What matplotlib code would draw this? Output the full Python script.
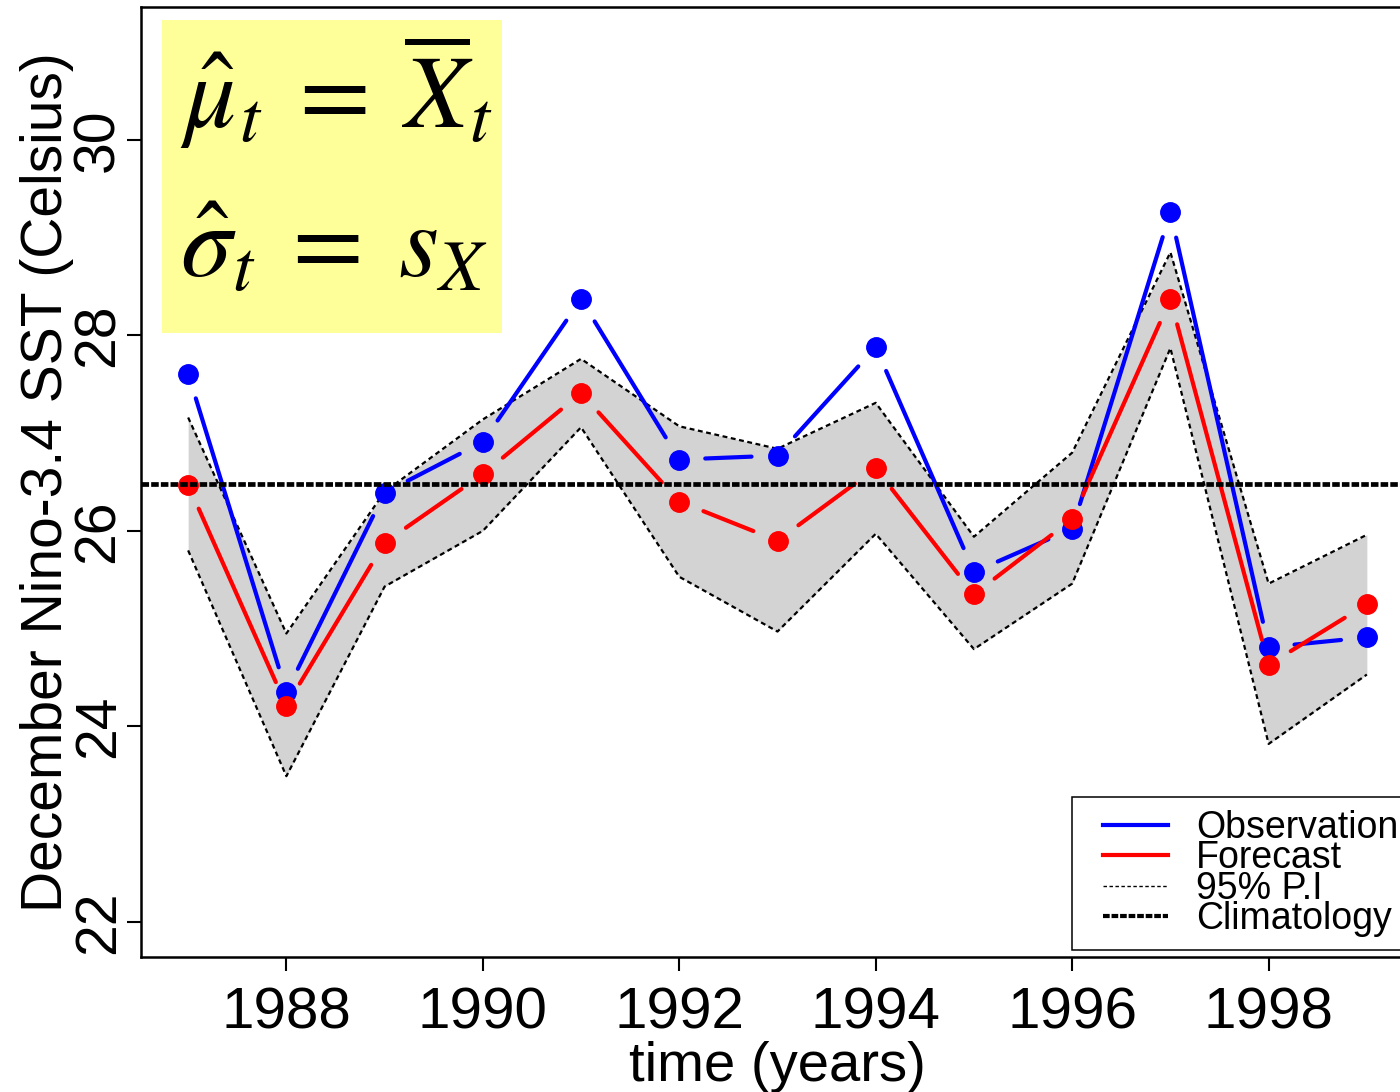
import numpy as np
import matplotlib
matplotlib.use("Agg")
import matplotlib.pyplot as plt
from matplotlib.collections import LineCollection
from matplotlib.lines import Line2D
from matplotlib.patches import Rectangle
from matplotlib.legend_handler import HandlerLine2D

# December Nino-3.4 SST, observations vs. forecast with 95% prediction interval
years = [1987, 1988, 1989, 1990, 1991, 1992, 1993, 1994, 1995, 1996, 1997, 1998, 1999]
observed = [27.61, 24.35, 26.39, 26.91, 28.37, 26.73, 26.77, 27.88, 25.58, 26.02, 29.26, 24.81, 24.91]
forecast = [26.47, 24.21, 25.88, 26.58, 27.41, 26.30, 25.90, 26.64, 25.35, 26.12, 28.37, 24.63, 25.25]
pi_upper = [27.16, 24.95, 26.40, 27.14, 27.76, 27.07, 26.84, 27.31, 25.94, 26.80, 28.85, 25.46, 25.96]
pi_lower = [25.80, 23.49, 25.43, 26.00, 27.06, 25.53, 24.97, 25.97, 24.79, 25.46, 27.87, 23.82, 24.53]
climatology = 26.48
xticks = [1988, 1990, 1992, 1994, 1996, 1998]
yticks = [22, 24, 26, 28, 30]

SANS = "Liberation Sans"
plt.rcParams["mathtext.fontset"] = "stix"

W, H = 1400, 1092
fig = plt.figure(figsize=(W / 100, H / 100), dpi=100)
# plot region (right edge runs past the figure border)
left, right, top, bottom = 141, 1414, 7, 957
ax = fig.add_axes([left / W, 1 - bottom / H, (right - left) / W, (bottom - top) / H])
ax.set_xlim(1986.52, 1999.48)
ax.set_ylim(21.64, 31.36)

x = np.array(years, dtype=float)
obs = np.array(observed)
fc = np.array(forecast)
up = np.array(pi_upper)
lo = np.array(pi_lower)

# prediction band
ax.fill_between(x, lo, up, color="#D3D3D3", lw=0, zorder=1)
pi_style = dict(color="black", lw=1.6, ls=(0, (2.2, 1.6)), zorder=2)
ax.plot(x, up, **pi_style)
ax.plot(x, lo, **pi_style)


def gapped(xv, yv, gap_px):
    """Segments between consecutive points, trimmed back from each point."""
    pts = ax.transData.transform(np.column_stack([xv, yv]))
    inv = ax.transData.inverted()
    segs = []
    for p0, p1 in zip(pts[:-1], pts[1:]):
        d = p1 - p0
        L = np.hypot(*d)
        if L > 2 * gap_px:
            u = d / L
            segs.append(inv.transform(np.array([p0 + u * gap_px, p1 - u * gap_px])))
    return segs


for vals, col, z in ((obs, "#0000FF", 3), (fc, "#FF0000", 4)):
    ax.add_collection(LineCollection(gapped(x, vals, 26), colors=col,
                                     linewidths=3.0, capstyle="round", zorder=z))
    ax.plot(x, vals, ls="none", marker="o", ms=14, color=col, mec=col, zorder=z)

ax.axhline(climatology, color="black", lw=3.4, ls=(0, (1.6, 0.45)), zorder=5)

# axes styling
for s in ("left", "bottom", "top", "right"):
    ax.spines[s].set_linewidth(1.8)
ax.set_xticks(xticks)
ax.set_yticks(yticks)
ax.tick_params(axis="both", direction="out", length=10, width=1.5)
ax.tick_params(axis="x", pad=11)
ax.tick_params(axis="y", pad=1)
for lab in ax.get_xticklabels():
    lab.set_fontfamily(SANS)
    lab.set_fontsize(42)
for lab in ax.get_yticklabels():
    lab.set_fontfamily(SANS)
    lab.set_fontsize(41)
    lab.set_rotation(90)
    lab.set_va("center")
    lab.set_ha("right")

ax.set_xlabel("time (years)", fontsize=40.5, family=SANS)
ax.xaxis.set_label_coords(0.5, -0.088)
ax.set_ylabel("December Nino-3.4 SST (Celsius)", fontsize=41, family=SANS)
ax.yaxis.set_label_coords(-0.053, 0.5)


class InsetLineHandler(HandlerLine2D):
    """Legend line that starts a little to the right of its handle box."""

    def __init__(self, inset, **kw):
        super().__init__(**kw)
        self.inset = inset

    def create_artists(self, legend, orig_handle, xdescent, ydescent, width,
                       height, fontsize, trans):
        artists = super().create_artists(legend, orig_handle, xdescent, ydescent,
                                         width, height, fontsize, trans)
        for a in artists:
            xd = np.array(a.get_xdata(), dtype=float)
            if xd.size >= 2 and a.get_linestyle() not in ("None", "none", ""):
                xd[0] += self.inset
                a.set_xdata(xd)
        return artists


handles = [
    Line2D([], [], color="#0000FF", lw=3.0),
    Line2D([], [], color="#FF0000", lw=3.0),
    Line2D([], [], color="black", lw=1.0, ls=(0, (2.5, 1.8))),
    Line2D([], [], color="black", lw=3.0, ls=(0, (1.6, 0.45))),
]
labels = ["Observation", "Forecast", "95% P.I", "Climatology"]
handler = InsetLineHandler(13)
leg = ax.legend(handles, labels, loc="upper left",
                bbox_to_anchor=(1072 / W, 1 - 797 / H), bbox_transform=fig.transFigure,
                prop={"family": SANS, "size": 27}, frameon=True, fancybox=False,
                edgecolor="black", framealpha=1, borderpad=0.35, labelspacing=-0.15,
                handlelength=2.2, handletextpad=0.75, borderaxespad=0,
                handler_map={h: handler for h in handles})
leg.get_frame().set_linewidth(1.1)
leg.set_zorder(6)

# estimator box
fig.patches.append(Rectangle((162 / W, 1 - 333 / H), 340 / W, 313 / H,
                             transform=fig.transFigure, facecolor="#FFFF99",
                             edgecolor="none", zorder=7))
fig.text(180 / W, 1 - 128 / H, r"$\hat{\mu}_t\;=\;\overline{X}_t$", fontsize=74,
         ha="left", va="baseline", zorder=8)
fig.text(180 / W, 1 - 277 / H, r"$\hat{\sigma}_t\;=\;s_X$", fontsize=74,
         ha="left", va="baseline", zorder=8)

fig.savefig("out.png", dpi=100)
